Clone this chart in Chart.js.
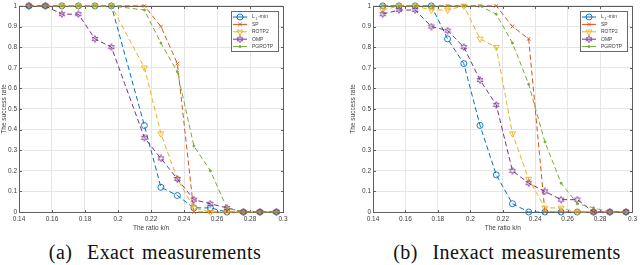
<!DOCTYPE html>
<html lang="en">
<head>
<meta charset="UTF-8" />
<title>Success rate vs ratio k/n</title>
<style>
    html, body {
        margin: 0;
        padding: 0;
        background: #fff;
        width: 640px;
        height: 265px;
        overflow: hidden;
    }
    .panel {
        position: absolute;
        top: 0;
        width: 320px;
        height: 240px;
    }
    .caption {
        position: absolute;
        top: 242px;
        width: 310px;
        font-family: 'Liberation Serif', 'DejaVu Serif', serif;
        font-size: 20px;
        letter-spacing: 0.4px;
        word-spacing: 2px;
        line-height: 20px;
        color: #111;
        text-align: center;
        white-space: nowrap;
    }
</style>
<script src="https://cdn.jsdelivr.net/npm/chart.js"></script>
</head>
<body>
<div class="panel" style="left:0"><canvas id="exact" width="320" height="240"></canvas></div>
<div class="panel" style="left:320px"><canvas id="inexact" width="320" height="240"></canvas></div>
<div class="caption" style="left:0">(a)&nbsp; Exact measurements</div>
<div class="caption" style="left:352px">(b)&nbsp; Inexact measurements</div>
<script>
const methods = ['L1-min', 'SP', 'ROTP2', 'OMP', 'PGROTP'];

// ratio k/n where each curve was sampled (exact run has no 0.206 sample)
const ratiosExact = [0.146, 0.156, 0.166, 0.176, 0.186, 0.196, 0.216, 0.226, 0.236, 0.246, 0.256, 0.266, 0.276, 0.286, 0.296];
const ratiosInexact = [0.146, 0.156, 0.166, 0.176, 0.186, 0.196, 0.206, 0.216, 0.226, 0.236, 0.246, 0.256, 0.266, 0.276, 0.286, 0.296];

// (a) exact measurements
const exactL1 = [1, 1, 1, 1, 1, 1, 0.42, 0.12, 0.08, 0.02, 0.02, 0, 0, 0, 0];
const exactSP = [1, 1, 1, 1, 1, 1, 1, 0.9, 0.72, 0, 0, 0, 0, 0, 0];
const exactROTP2 = [1, 1, 1, 1, 1, 1, 0.7, 0.38, 0.16, 0.02, 0, 0, 0, 0, 0];
const exactOMP = [1, 1, 0.96, 0.96, 0.84, 0.8, 0.36, 0.26, 0.16, 0.06, 0.04, 0.02, 0, 0, 0];
const exactPGROTP = [1, 1, 1, 1, 1, 1, 0.98, 0.82, 0.68, 0.32, 0.2, 0.02, 0, 0, 0];

// (b) inexact measurements
const inexactL1 = [1, 1, 1, 1, 0.84, 0.72, 0.42, 0.18, 0.04, 0, 0, 0, 0, 0, 0, 0];
const inexactSP = [1, 1, 1, 1, 1, 1, 1, 1, 0.9, 0.84, 0, 0, 0, 0, 0, 0];
const inexactROTP2 = [0.98, 1, 1, 0.98, 0.98, 1, 0.84, 0.8, 0.38, 0.16, 0.02, 0.02, 0, 0, 0, 0];
const inexactOMP = [0.96, 0.98, 0.98, 0.9, 0.88, 0.8, 0.64, 0.52, 0.2, 0.14, 0.1, 0.06, 0.06, 0, 0, 0];
const inexactPGROTP = [1, 1, 1, 1, 1, 1, 1, 0.96, 0.82, 0.62, 0.34, 0.14, 0.04, 0.02, 0, 0];

const xTicks = [0.14, 0.16, 0.18, 0.2, 0.22, 0.24, 0.26, 0.28, 0.3];
const yTicks = [0, 0.1, 0.2, 0.3, 0.4, 0.5, 0.6, 0.7, 0.8, 0.9, 1];

const colors = ['#0072bd', '#d95319', '#edb120', '#7e2f8e', '#77ac30'];
const axisColor = '#5e5e5e';
const gridColor = '#e6e6e6';
const textColor = '#3c3c3c';
const smallFont = { family: 'Liberation Sans', size: 6.5 };

function hexagram(color) {
    const c = document.createElement('canvas');
    c.width = 8;
    c.height = 8;
    const g = c.getContext('2d');
    g.strokeStyle = color;
    g.lineWidth = 0.8;
    g.beginPath();
    for (let i = 0; i < 12; i++) {
        const r = i % 2 ? 1.6 : 3.4;
        const a = -Math.PI / 2 + i * Math.PI / 6;
        const px = 4 + r * Math.cos(a), py = 4 + r * Math.sin(a);
        if (i) g.lineTo(px, py); else g.moveTo(px, py);
    }
    g.closePath();
    g.stroke();
    return c;
}

const markers = [
    { style: 'circle', r: 3, rot: 0 },
    { style: 'crossRot', r: 2.5, rot: 0 },
    { style: 'triangle', r: 3.5, rot: 180 },
    { style: hexagram(colors[3]), r: 3.5, rot: 0 },
    { style: 'circle', r: 1, rot: 0 }
];

function makeSets(xs, series) {
    return series.map((ys, i) => ({
        label: methods[i],
        data: xs.map((x, j) => ({ x: x, y: ys[j] })),
        borderColor: colors[i],
        backgroundColor: colors[i],
        borderWidth: 1,
        borderDash: [5, 3],
        tension: 0,
        pointStyle: markers[i].style,
        pointRadius: markers[i].r,
        pointRotation: markers[i].rot,
        pointBorderColor: colors[i],
        pointBackgroundColor: i === 4 ? colors[i] : 'rgba(0,0,0,0)',
        pointBorderWidth: 0.9,
        order: 5 - i,
        clip: false
    }));
}

// box, inward ticks (drawn under the data) and the boxed legend (on top)
const framePlugin = {
    id: 'frame',
    beforeDatasetsDraw(chart) {
        const { ctx, chartArea: a, scales } = chart;
        const l = Math.round(a.left) + 0.5, r = Math.round(a.right) + 0.5;
        const t = Math.round(a.top) + 0.5, b = Math.round(a.bottom) + 0.5;
        ctx.save();
        ctx.strokeStyle = axisColor;
        ctx.lineWidth = 1;
        ctx.strokeRect(l, t, r - l, b - t);
        ctx.beginPath();
        xTicks.forEach(v => {
            const px = Math.round(scales.x.getPixelForValue(v)) + 0.5;
            ctx.moveTo(px, b); ctx.lineTo(px, b - 2.5);
            ctx.moveTo(px, t); ctx.lineTo(px, t + 2.5);
        });
        yTicks.forEach(v => {
            const py = Math.round(scales.y.getPixelForValue(v)) + 0.5;
            ctx.moveTo(l, py); ctx.lineTo(l + 2.5, py);
            ctx.moveTo(r, py); ctx.lineTo(r - 2.5, py);
        });
        ctx.stroke();
        ctx.restore();
    },
    afterDraw(chart) {
        const { ctx, chartArea: a } = chart;
        const w = 47, h = 40;
        const lx = Math.round(a.right) - 5 - w, ly = Math.round(a.top) + 5;
        ctx.save();
        ctx.fillStyle = '#fff';
        ctx.fillRect(lx, ly, w, h);
        ctx.strokeStyle = '#6a6a6a';
        ctx.lineWidth = 1;
        ctx.strokeRect(lx + 0.5, ly + 0.5, w, h);
        chart.data.datasets.forEach((ds, i) => {
            const cy = ly + 6 + i * 7.4;
            ctx.setLineDash([]);
            ctx.strokeStyle = ds.borderColor;
            ctx.lineWidth = 1;
            ctx.beginPath();
            ctx.moveTo(lx + 2, cy);
            ctx.lineTo(lx + 16, cy);
            ctx.stroke();
            ctx.strokeStyle = ds.pointBorderColor;
            ctx.fillStyle = ds.pointBackgroundColor;
            ctx.lineWidth = ds.pointBorderWidth;
            Chart.helpers.drawPoint(ctx, {
                pointStyle: ds.pointStyle,
                rotation: ds.pointRotation,
                radius: ds.pointRadius,
                borderWidth: ds.pointBorderWidth
            }, lx + 9, cy);
            ctx.fillStyle = textColor;
            ctx.textBaseline = 'middle';
            ctx.font = '5px "Liberation Sans"';
            const tx = lx + 21;
            if (i === 0) {
                ctx.fillText('L', tx, cy);
                ctx.font = '3.5px "Liberation Sans"';
                ctx.fillText('1', tx + 3.6, cy + 1.6);
                ctx.font = '5px "Liberation Sans"';
                ctx.fillText('-min', tx + 6.2, cy);
            } else {
                ctx.fillText(ds.label, tx, cy);
            }
        });
        ctx.restore();
    }
};

function makeChart(id, xs, series, padLeft, padRight, yWidth) {
    return new Chart(document.getElementById(id), {
        type: 'line',
        data: { datasets: makeSets(xs, series) },
        options: {
            responsive: false,
            animation: false,
            layout: { padding: { left: padLeft, right: padRight, top: 4, bottom: 0 } },
            plugins: { legend: { display: false }, tooltip: { enabled: false } },
            scales: {
                x: {
                    type: 'linear',
                    min: 0.14,
                    max: 0.3,
                    afterBuildTicks: s => { s.ticks = xTicks.map(v => ({ value: v })); },
                    afterFit: s => { s.height = 28; },
                    grid: { color: gridColor, drawTicks: false },
                    border: { display: false },
                    ticks: {
                        font: smallFont,
                        color: textColor,
                        padding: 3,
                        maxRotation: 0,
                        autoSkip: false,
                        callback: v => String(+v.toFixed(2))
                    },
                    title: {
                        display: true,
                        text: 'The ratio k/n',
                        font: smallFont,
                        color: textColor,
                        padding: { top: 0, bottom: 8 }
                    }
                },
                y: {
                    min: 0,
                    max: 1,
                    afterBuildTicks: s => { s.ticks = yTicks.map(v => ({ value: v })); },
                    afterFit: s => { s.width = yWidth; },
                    grid: { color: gridColor, drawTicks: false },
                    border: { display: false },
                    ticks: {
                        font: smallFont,
                        color: textColor,
                        padding: 2,
                        autoSkip: false,
                        callback: v => String(+v.toFixed(1))
                    },
                    title: {
                        display: true,
                        text: 'The success rate',
                        font: smallFont,
                        color: textColor,
                        padding: { top: 0, bottom: 0 }
                    }
                }
            }
        },
        plugins: [framePlugin]
    });
}

makeChart('exact', ratiosExact,
    [exactL1, exactSP, exactROTP2, exactOMP, exactPGROTP], 0, 37, 19);
makeChart('inexact', ratiosInexact,
    [inexactL1, inexactSP, inexactROTP2, inexactOMP, inexactPGROTP], 29, 4, 24);
</script>
</body>
</html>
